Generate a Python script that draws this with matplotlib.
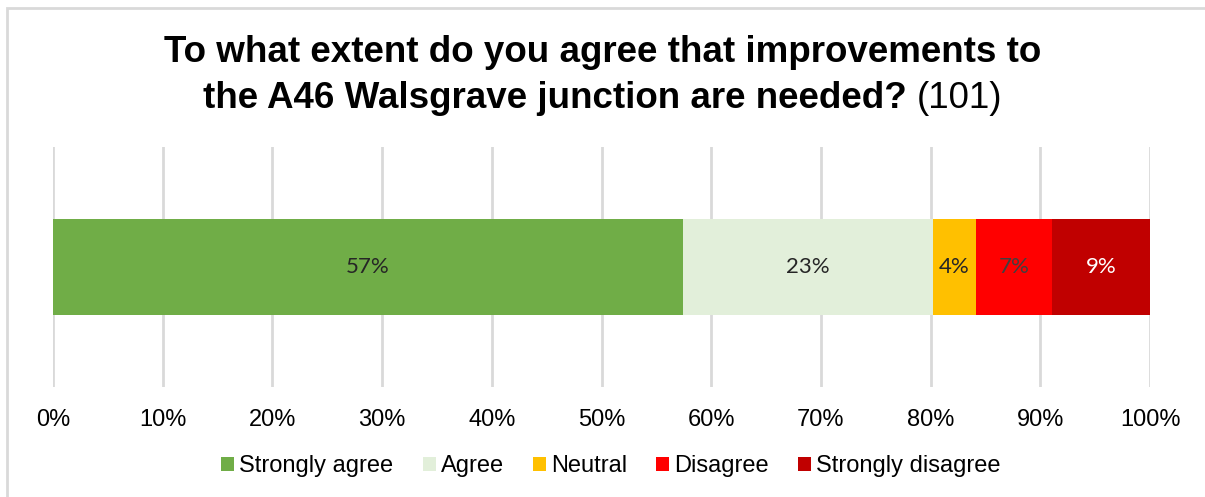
import matplotlib.pyplot as plt
from matplotlib.patches import Rectangle
from matplotlib.ticker import PercentFormatter

# responses (n = 101)
categories = ['Strongly agree', 'Agree', 'Neutral', 'Disagree', 'Strongly disagree']
counts = [58, 23, 4, 7, 9]
colors = ['#70AD47', '#E2EFDA', '#FFC000', '#FF0000', '#C00000']
label_colors = ['#262626', '#262626', '#262626', '#404040', '#FFFFFF']
total = sum(counts)
shares = [c / total for c in counts]

plt.rcParams['font.family'] = ['Liberation Sans', 'DejaVu Sans']

W, H = 1205, 497
fig = plt.figure(figsize=(W / 100, H / 100), dpi=100)
ax = fig.add_axes([53 / W, 1 - 387 / H, 1097 / W, 240 / H])

left = 0.0
for cat, share, col, lc in zip(categories, shares, colors, label_colors):
    ax.barh(0, share, left=left, height=0.404, color=col, label=cat, zorder=3)
    ax.text(left + share / 2, 0, f'{round(share * 100)}%', ha='center', va='center',
            fontsize=16, color=lc, family=['Lato', 'DejaVu Sans'], zorder=4)
    left += share

ax.set_xlim(0, 1)
ax.set_ylim(-0.5, 0.5)
ax.set_xticks([i / 10 for i in range(11)])
ax.xaxis.set_major_formatter(PercentFormatter(1.0, decimals=0))
ax.set_yticks([])
ax.tick_params(axis='x', length=0, labelsize=17, pad=16, labelcolor='#000000')
ax.grid(axis='x', color='#D9D9D9', linewidth=2, zorder=0)
for s in ax.spines.values():
    s.set_visible(False)

# two-line title, count in regular weight after the bold question
title_size = 26.5
fig.text(0.5, 1 - 52 / H, 'To what extent do you agree that improvements to',
         ha='center', va='center', fontsize=title_size, fontweight='bold')
q = 'the A46 Walsgrave junction are needed? '
fig.canvas.draw()
r = fig.canvas.get_renderer()
tmp_q = fig.text(0, 0, q, fontsize=title_size, fontweight='bold')
tmp_n = fig.text(0, 0, '(101)', fontsize=title_size)
wq = tmp_q.get_window_extent(r).width
wn = tmp_n.get_window_extent(r).width
tmp_q.remove()
tmp_n.remove()
x0 = (W - wq - wn) / 2 / W
fig.text(x0, 1 - 98 / H, q, ha='left', va='center', fontsize=title_size, fontweight='bold')
fig.text(x0 + wq / W, 1 - 98 / H, '(101)', ha='left', va='center', fontsize=title_size)

fig.legend(loc='center', bbox_to_anchor=(611 / W, 1 - 466 / H), ncol=5,
           frameon=False, fontsize=17, handlelength=0.55, handleheight=0.55,
           handletextpad=0.2, columnspacing=1.25, borderaxespad=0)

# light outer frame
fig.patches.append(Rectangle((7 / W, -0.1), 1.2, 1.1 - 8 / H,
                             transform=fig.transFigure, fill=False,
                             edgecolor='#D9D9D9', linewidth=2))

fig.savefig('out.png', dpi=100)
